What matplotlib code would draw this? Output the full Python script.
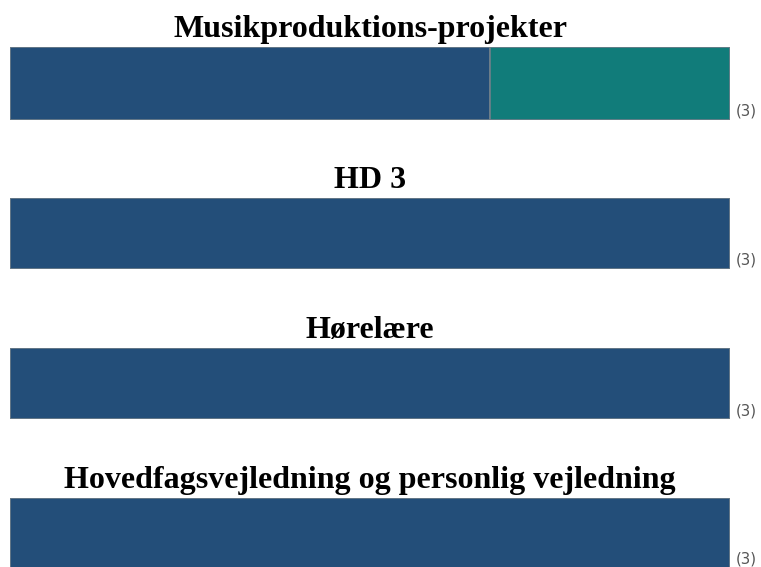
"""Kursevaluering: stablede vandrette søjler pr. fag."""

import matplotlib
matplotlib.use("Agg")
import matplotlib.pyplot as plt

COURSES = [
    "Musikproduktions-projekter",
    "HD 3",
    "Hørelære",
    "Hovedfagsvejledning og personlig vejledning",
]
SERIES_A = [2, 3, 3, 3]
SERIES_B = [1, 0, 0, 0]
N_LABELS = ["(3)", "(3)", "(3)", "(3)"]

COLOR_A = "#234e79"
COLOR_B = "#117c7a"
EDGE = "#6f7f8a"

W, H = 761, 567
# pixel rows (top, bottom) of each bar
BAR_ROWS = [(47, 120), (198, 269), (348, 419), (498, 568)]
BAR_LEFT, BAR_RIGHT = 10, 730


def main() -> None:
    fig = plt.figure(figsize=(W / 100, H / 100), dpi=100)

    for course, a, b, n, (top, bottom) in zip(
        COURSES, SERIES_A, SERIES_B, N_LABELS, BAR_ROWS
    ):
        height = bottom - top
        ax = fig.add_axes(
            [
                BAR_LEFT / W,
                1 - bottom / H,
                (BAR_RIGHT - BAR_LEFT) / W,
                height / H,
            ]
        )
        total = a + b
        ax.barh(0, a, height=1, color=COLOR_A, edgecolor=EDGE, linewidth=1.2)
        if b:
            ax.barh(0, b, left=a, height=1, color=COLOR_B, edgecolor=EDGE,
                    linewidth=1.2)
        ax.set_xlim(0, total)
        ax.set_ylim(-0.5, 0.5)
        ax.axis("off")

        ax.text(0.5, 1.0 + 10 / height, course,
                transform=ax.transAxes, ha="center", va="baseline",
                fontsize=23, fontweight="bold", family="Liberation Serif")
        ax.text(1.0 + 6 / (BAR_RIGHT - BAR_LEFT), 4 / height, n,
                transform=ax.transAxes, ha="left", va="baseline",
                fontsize=10.8, color="#555555", family="DejaVu Sans")

    fig.savefig("out.png", dpi=100)
    plt.close(fig)


if __name__ == "__main__":
    main()
